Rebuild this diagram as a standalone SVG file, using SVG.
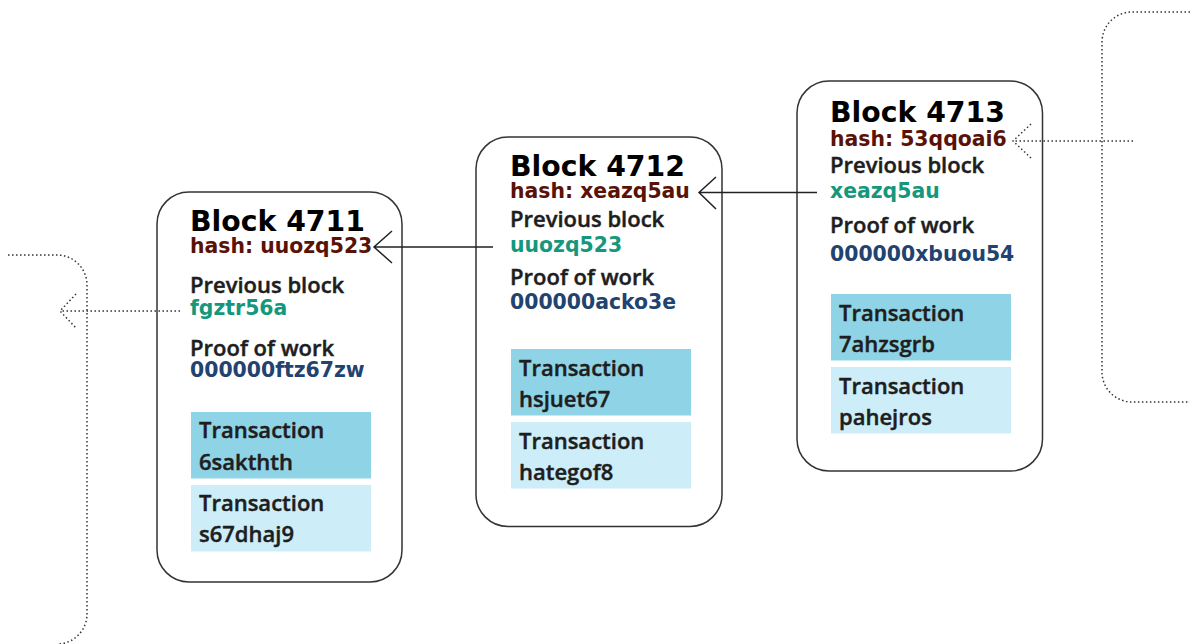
<svg xmlns="http://www.w3.org/2000/svg" width="1192" height="644" viewBox="0 0 1192 644">
<style>
.blk{fill:#fff;stroke:#333;stroke-width:1.5}
.title{font-family:"DejaVu Sans",sans-serif;font-weight:bold;font-size:28.3px;fill:#000}
.hash{font-family:"DejaVu Sans",sans-serif;font-weight:bold;font-size:20.4px;fill:#5a1207}
.prev{font-family:"DejaVu Sans",sans-serif;font-weight:bold;font-size:20.4px;fill:#14977c}
.pow{font-family:"DejaVu Sans",sans-serif;font-weight:bold;font-size:20.4px;fill:#22436f}
.lbl{font-family:"Open Sans",sans-serif;font-weight:600;font-size:22px;fill:#1e1e1e;stroke:#1e1e1e;stroke-width:0.45}
.tx1{fill:#8fd4e6}
.tx2{fill:#cdeef9}
.solid{fill:none;stroke:#222;stroke-width:1.5}
.dot{fill:none;stroke:#333;stroke-width:1.5;stroke-dasharray:1.5 2.5}
</style>
<g id="block4711">
<rect class="blk" x="157" y="192" width="245" height="390" rx="32"/>
<text class="title" x="190" y="230.5">Block 4711</text>
<text class="hash" x="190" y="253">hash: uuozq523</text>
<text class="lbl" x="190" y="293">Previous block</text>
<text class="prev" x="190" y="315">fgztr56a</text>
<text class="lbl" x="190" y="356">Proof of work</text>
<text class="pow" x="190" y="377">000000ftz67zw</text>
<rect class="tx1" x="191" y="412" width="180" height="66.5"/>
<text class="lbl" x="199" y="438">Transaction</text>
<text class="lbl" x="199" y="470">6sakthth</text>
<rect class="tx2" x="191" y="485" width="180" height="66.5"/>
<text class="lbl" x="199" y="511">Transaction</text>
<text class="lbl" x="199" y="542">s67dhaj9</text>
</g>
<g id="block4712">
<rect class="blk" x="476" y="137" width="246" height="389.5" rx="32"/>
<text class="title" x="510" y="175.5">Block 4712</text>
<text class="hash" x="510" y="197.5">hash: xeazq5au</text>
<text class="lbl" x="510" y="227">Previous block</text>
<text class="prev" x="510" y="252">uuozq523</text>
<text class="lbl" x="510" y="285">Proof of work</text>
<text class="pow" x="510" y="309">000000acko3e</text>
<rect class="tx1" x="511" y="349" width="180" height="66.5"/>
<text class="lbl" x="519" y="375.5">Transaction</text>
<text class="lbl" x="519" y="406.5">hsjuet67</text>
<rect class="tx2" x="511" y="422" width="180" height="66.5"/>
<text class="lbl" x="519" y="449">Transaction</text>
<text class="lbl" x="519" y="479.5">hategof8</text>
</g>
<g id="block4713">
<rect class="blk" x="797" y="81" width="245.5" height="390" rx="32"/>
<text class="title" x="830" y="121.5">Block 4713</text>
<text class="hash" x="830" y="146">hash: 53qqoai6</text>
<text class="lbl" x="830" y="173">Previous block</text>
<text class="prev" x="830" y="197.5">xeazq5au</text>
<text class="lbl" x="830" y="233">Proof of work</text>
<text class="pow" x="830" y="261">000000xbuou54</text>
<rect class="tx1" x="831" y="294" width="180" height="66.5"/>
<text class="lbl" x="839" y="320.5">Transaction</text>
<text class="lbl" x="839" y="351.5">7ahzsgrb</text>
<rect class="tx2" x="831" y="367" width="180" height="66.5"/>
<text class="lbl" x="839" y="394">Transaction</text>
<text class="lbl" x="839" y="424.5">pahejros</text>
</g>
<g id="connectors">
<path class="dot" d="M8,255 H57 A30,30 0 0 1 87,285 V614 A30,30 0 0 1 57,644"/>
<path class="dot" d="M1190,12 H1132 A30,30 0 0 0 1102,42 V372 A30,30 0 0 0 1132,402 H1190"/>
<path class="dot" d="M180,311 H60 M76,294 L60,311 L76,328"/>
<path class="dot" d="M1133,141 H1013 M1031,124 L1013,141 L1031,158"/>
<path class="solid" d="M493,247 H374 M392,231 L374,247 L392,263"/>
<path class="solid" d="M817,192.5 H699 M716,177 L699,192.5 L716,209"/>
</g>
</svg>
